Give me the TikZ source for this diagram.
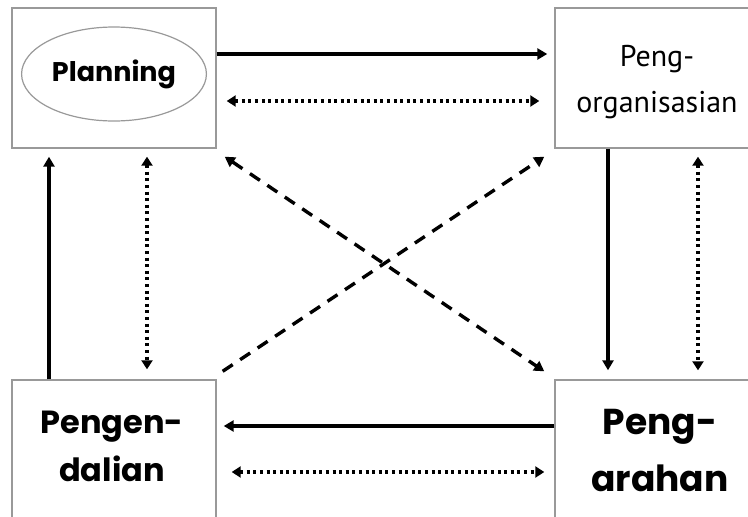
\documentclass[tikz,border=0pt]{standalone}
\usepackage{fontspec}
\usetikzlibrary{arrows.meta,calc,shapes.geometric}
\newfontfamily\gothicfont{Poppins}
\newfontfamily\thinfont{PT Sans}
\tikzset{
  fnbox/.style={draw=gray!80,line width=1.4pt,minimum width=204pt,minimum height=140pt,align=center,inner sep=0pt},
  solidarr/.style={line width=3.2pt,-{Triangle[length=10pt,width=11pt]}},
  dotarr/.style={line width=3.2pt,dash pattern=on 3pt off 3.6pt,{Triangle[length=9pt,width=11pt]}-{Triangle[length=9pt,width=11pt]}},
  dasharr/.style={line width=3.4pt,dash pattern=on 12pt off 9pt}
}
\begin{document}
\begin{tikzpicture}[x=1pt,y=1pt,yscale=-1]
\useasboundingbox (0,0) rectangle (748,517);
\clip (0,0) rectangle (748,517);

%Shape: Rectangle [planning]
\node[fnbox] (plan) at (114,78) {};
%Shape: Ellipse
\node[draw=gray!80,line width=1.2pt,ellipse,minimum width=176pt,minimum height=94pt] (planell) at (114,74)
  {\gothicfont\bfseries\fontsize{27}{32}\selectfont Planning};
%Shape: Rectangle [pengorganisasian]
\node[fnbox] (org) at (657,78) {};
\node (orgtxt) at (657,80) {\thinfont\fontsize{30}{48}\selectfont\begin{tabular}{c}Peng-\\[-2pt]organisasian\end{tabular}};
%Shape: Rectangle [pengendalian]
\node[fnbox] (ctrl) at (114,450) {};
\node (ctrltxt) at (112,448) {\gothicfont\bfseries\fontsize{32}{48}\selectfont\begin{tabular}{c}Pengen-\\dalian\end{tabular}};
%Shape: Rectangle [pengarahan]
\node[fnbox] (dir) at (657,450) {};
\node (dirtxt) at (660,452) {\gothicfont\bfseries\fontsize{36}{57}\selectfont\begin{tabular}{c}Peng-\\arahan\end{tabular}};

%Straight Lines [horizontal]
\draw[solidarr] ($(plan.east)+(0,-24)$) -- ($(org.west)+(-7,-24)$);
\draw[dotarr] ($(plan.east)+(10,23)$) -- ($(org.west)+(-15,23)$);
\draw[solidarr] ($(dir.west)+(0,-24)$) -- ($(ctrl.east)+(7,-24)$);
\draw[dotarr] ($(ctrl.east)+(15,22)$) -- ($(dir.west)+(-10,22)$);
%Straight Lines [vertical]
\draw[solidarr] ($(ctrl.north)+(-65,0)$) -- ($(plan.south)+(-65,8)$);
\draw[dotarr] ($(plan.south)+(33,8)$) -- ($(ctrl.north)+(33,-10)$);
\draw[solidarr] ($(org.south)+(-49,0)$) -- ($(dir.north)+(-49,-9)$);
\draw[dotarr] ($(org.south)+(41,8)$) -- ($(dir.north)+(41,-9)$);
%Straight Lines [diagonal]
\draw[dasharr,{Triangle[length=10pt,width=11pt]}-{Triangle[length=10pt,width=11pt]}] ($(plan.south east)+(8,8)$) -- ($(dir.north west)+(-10,-8)$);
\draw[dasharr,-{Triangle[length=10pt,width=11pt]}] ($(ctrl.north east)+(6,-8)$) -- ($(org.south west)+(-10,8)$);

\end{tikzpicture}
\end{document}
